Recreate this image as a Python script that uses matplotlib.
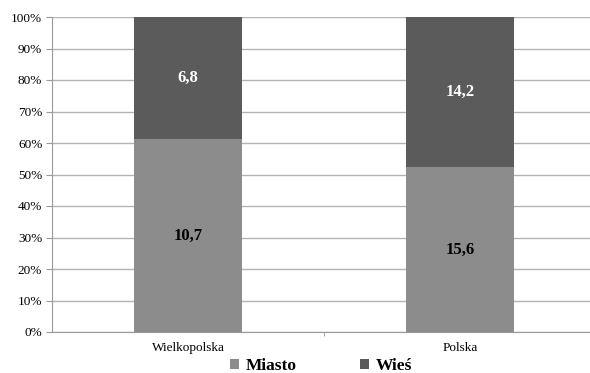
import matplotlib
matplotlib.use("Agg")
import matplotlib.pyplot as plt
import numpy as np

regions = ["Wielkopolska", "Polska"]
miasto = [10.7, 15.6]
wies = [6.8, 14.2]
yticks = [0, 10, 20, 30, 40, 50, 60, 70, 80, 90, 100]

plt.rcParams["font.family"] = ["Liberation Serif", "DejaVu Serif"]

c_miasto = "#8c8c8c"
c_wies = "#5b5b5b"

fig = plt.figure(figsize=(5.9, 3.73), dpi=100)
ax = fig.add_axes([52 / 590, 1 - 332 / 373, (596 - 52) / 590, (332 - 17) / 373])

m = np.array(miasto)
w = np.array(wies)
tot = m + w
pm = m / tot * 100
pw = w / tot * 100
x = np.arange(len(regions))

ax.bar(x, pm, width=0.4, color=c_miasto, zorder=2, label="Miasto")
ax.bar(x, pw, width=0.4, bottom=pm, color=c_wies, zorder=2, label="Wieś")

for xi, a, b, va, vb in zip(x, pm, pw, miasto, wies):
    ax.text(xi, a / 2, f"{va:.1f}".replace(".", ","), ha="center", va="center",
            fontsize=12, fontweight="bold", color="black", zorder=3)
    ax.text(xi, a + b / 2, f"{vb:.1f}".replace(".", ","), ha="center", va="center",
            fontsize=12, fontweight="bold", color="white", zorder=3)

ax.set_xlim(-0.5, 1.5)
ax.set_ylim(0, 100)
ax.set_yticks(yticks)
ax.set_yticklabels([f"{t}%" for t in yticks], fontsize=9.5)
ax.yaxis.grid(True, color="#b4b4b4", linewidth=1, zorder=0)
ax.set_axisbelow(True)

ax.set_xticks(x)
ax.set_xticklabels(regions, fontsize=9.5)
ax.tick_params(axis="x", length=0, pad=7)
ax.set_xticks([0.5], minor=True)
ax.tick_params(axis="x", which="minor", length=3, color="#9a9a9a")
ax.tick_params(axis="y", length=4, color="#9a9a9a", pad=3)

for s in ["top", "right"]:
    ax.spines[s].set_visible(False)
for s in ["left", "bottom"]:
    ax.spines[s].set_color("#9a9a9a")

leg = fig.legend(loc="center", bbox_to_anchor=(321 / 590, 1 - 366 / 373), ncol=2,
                 frameon=False, prop={"size": 12.5, "weight": "bold"},
                 handlelength=0.55, handleheight=0.55, columnspacing=3.6,
                 handletextpad=0.4)

fig.savefig("out.png", dpi=100)
